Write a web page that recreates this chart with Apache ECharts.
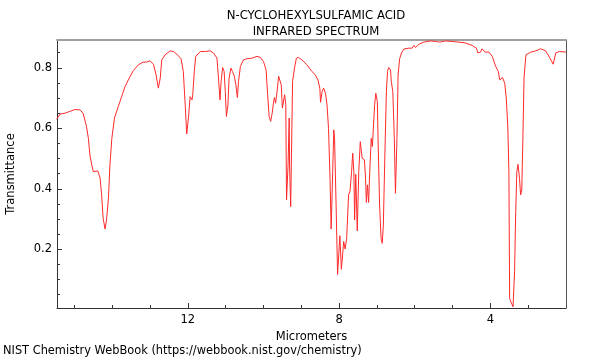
<!DOCTYPE html>
<html>
<head>
<meta charset="utf-8">
<script src="https://cdn.jsdelivr.net/npm/echarts@6/dist/echarts.min.js"></script>
<style>
html,body{margin:0;padding:0;background:#fff;}
#c{width:600px;height:360px;}
</style>
</head>
<body>
<div id="c"></div>
<script>
// Wavelength in micrometers
const wavelength = [15.47,15.38,15.25,15.12,15.07,14.99,14.85,14.77,14.68,14.63,14.59,14.54,14.50,14.46,14.38,14.32,14.28,14.24,14.19,14.15,14.10,14.06,14.01,13.94,13.84,13.75,13.66,13.55,13.44,13.31,13.18,13.09,13.00,12.91,12.84,12.78,12.73,12.69,12.60,12.47,12.38,12.29,12.18,12.12,12.07,12.03,11.98,11.94,11.89,11.87,11.83,11.79,11.67,11.54,11.41,11.32,11.23,11.19,11.15,11.12,11.08,11.04,11.01,10.98,10.94,10.91,10.86,10.82,10.77,10.73,10.69,10.66,10.61,10.53,10.44,10.30,10.17,10.08,10.00,9.93,9.89,9.85,9.81,9.77,9.73,9.71,9.68,9.64,9.60,9.56,9.53,9.50,9.47,9.44,9.41,9.39,9.35,9.32,9.31,9.28,9.26,9.23,9.18,9.13,9.07,8.98,8.85,8.72,8.63,8.56,8.51,8.49,8.45,8.41,8.36,8.32,8.28,8.24,8.21,8.17,8.14,8.12,8.08,8.04,8.01,7.98,7.94,7.90,7.88,7.84,7.80,7.75,7.71,7.67,7.64,7.61,7.59,7.56,7.52,7.48,7.44,7.39,7.33,7.30,7.28,7.25,7.22,7.19,7.15,7.12,7.09,7.06,7.03,6.99,6.97,6.93,6.89,6.86,6.83,6.79,6.75,6.72,6.69,6.64,6.62,6.58,6.54,6.51,6.47,6.44,6.40,6.35,6.29,6.16,6.07,6.02,5.98,5.89,5.76,5.58,5.45,5.34,5.18,5.01,4.83,4.65,4.48,4.37,4.33,4.26,4.22,4.14,4.04,3.95,3.86,3.79,3.75,3.68,3.62,3.58,3.54,3.51,3.49,3.46,3.43,3.40,3.36,3.33,3.30,3.27,3.23,3.20,3.17,3.14,3.11,3.06,2.93,2.80,2.67,2.54,2.45,2.34,2.27,2.18,2.00];
// Transmittance
const transmittance = [0.630,0.647,0.650,0.656,0.654,0.662,0.661,0.650,0.606,0.567,0.512,0.479,0.457,0.460,0.459,0.435,0.380,0.303,0.267,0.297,0.369,0.479,0.567,0.634,0.672,0.705,0.738,0.766,0.791,0.810,0.819,0.819,0.823,0.812,0.777,0.733,0.766,0.826,0.843,0.856,0.854,0.845,0.830,0.788,0.678,0.581,0.640,0.705,0.694,0.711,0.788,0.838,0.854,0.854,0.856,0.849,0.832,0.766,0.694,0.755,0.801,0.788,0.722,0.639,0.678,0.766,0.799,0.788,0.772,0.744,0.702,0.755,0.805,0.826,0.830,0.832,0.838,0.834,0.821,0.793,0.711,0.639,0.623,0.650,0.689,0.702,0.683,0.722,0.772,0.775,0.744,0.667,0.672,0.711,0.678,0.363,0.479,0.634,0.479,0.341,0.512,0.755,0.799,0.832,0.834,0.826,0.810,0.788,0.777,0.760,0.733,0.686,0.722,0.733,0.716,0.678,0.600,0.435,0.267,0.457,0.595,0.567,0.347,0.117,0.181,0.245,0.134,0.192,0.226,0.201,0.236,0.380,0.393,0.457,0.518,0.457,0.297,0.448,0.261,0.457,0.556,0.501,0.496,0.435,0.355,0.413,0.355,0.457,0.567,0.540,0.611,0.678,0.716,0.689,0.567,0.347,0.236,0.220,0.280,0.512,0.722,0.788,0.801,0.793,0.755,0.722,0.567,0.385,0.567,0.777,0.830,0.849,0.862,0.865,0.865,0.874,0.867,0.878,0.885,0.889,0.887,0.885,0.889,0.887,0.885,0.882,0.874,0.865,0.849,0.852,0.863,0.852,0.852,0.838,0.805,0.788,0.760,0.768,0.749,0.700,0.611,0.457,0.038,0.027,0.021,0.010,0.126,0.325,0.457,0.481,0.435,0.380,0.396,0.567,0.766,0.843,0.852,0.856,0.863,0.856,0.838,0.812,0.849,0.854,0.852];

const xMajorTicks = [4, 8, 12];
const xMinorTicks = [3, 4, 5, 6, 7, 8, 9, 10, 11, 12, 13, 14, 15];
const yMajorTicks = [0.2, 0.4, 0.6, 0.8];
const yMinorTicks = [0.05, 0.1, 0.15, 0.2, 0.25, 0.3, 0.35, 0.4, 0.45, 0.5, 0.55, 0.6, 0.65, 0.7, 0.75, 0.8, 0.85];

const titleLines = ['N-CYCLOHEXYLSULFAMIC ACID', 'INFRARED SPECTRUM'];
const xName = 'Micrometers';
const yName = 'Transmittance';
const footer = 'NIST Chemistry WebBook (https://webbook.nist.gov/chemistry)';

const X_MIN = 2.0, X_MAX = 15.46, Y_MIN = 0.006, Y_MAX = 0.892;
const FONT = 'DejaVu Sans';
const FS = 11.5;

const points = wavelength.map((w, i) => [w, transmittance[i]]);
const gridPos = { left: 57, right: 34, top: 40, bottom: 52, containLabel: false, outerBoundsMode: 'none' };

const chart = echarts.init(document.getElementById('c'), null, { renderer: 'canvas' });
chart.setOption({
  animation: false,
  backgroundColor: '#fff',
  textStyle: { fontFamily: FONT },
  title: {
    text: titleLines.join('\n'),
    left: 311, top: 3, textAlign: 'center',
    textStyle: { fontFamily: FONT, fontSize: 11.7, fontWeight: 'normal', color: '#000', lineHeight: 16 }
  },
  graphic: [{
    type: 'text', left: 3, top: 346,
    style: { text: footer, fontFamily: FONT, fontSize: 11.4, fill: '#000' }
  }],
  grid: [
    Object.assign({}, gridPos),
    Object.assign({}, gridPos)
  ],
  xAxis: [
    {
      type: 'value', gridIndex: 0, position: 'bottom', inverse: true, min: X_MIN, max: X_MAX,
      name: xName, nameLocation: 'middle', nameGap: 19,
      nameTextStyle: { fontFamily: FONT, fontSize: FS, color: '#000' },
      axisLine: { show: true, lineStyle: { color: '#333', width: 1 } },
      axisTick: { show: true, inside: true, length: 5, customValues: xMajorTicks, lineStyle: { color: '#333' } },
      axisLabel: { show: true, customValues: xMajorTicks, margin: 6, fontFamily: FONT, fontSize: FS, color: '#000', formatter: v => String(v) },
      splitLine: { show: false }
    },
    {
      type: 'value', gridIndex: 0, position: 'top', inverse: true, min: X_MIN, max: X_MAX,
      axisLine: { show: true, lineStyle: { color: '#a0a0a0', width: 2 } },
      axisTick: { show: false }, axisLabel: { show: false }, splitLine: { show: false }
    },
    {
      type: 'value', gridIndex: 1, position: 'bottom', inverse: true, min: X_MIN, max: X_MAX,
      axisLine: { show: false },
      axisTick: { show: true, inside: true, length: 3, customValues: xMinorTicks, lineStyle: { color: '#333' } },
      axisLabel: { show: false }, splitLine: { show: false }
    }
  ],
  yAxis: [
    {
      type: 'value', gridIndex: 0, position: 'left', min: Y_MIN, max: Y_MAX,
      name: yName, nameLocation: 'middle', nameGap: 40,
      nameTextStyle: { fontFamily: FONT, fontSize: FS, color: '#000' },
      axisLine: { show: true, lineStyle: { color: '#333', width: 1 } },
      axisTick: { show: true, inside: true, length: 5, customValues: yMajorTicks, lineStyle: { color: '#333' } },
      axisLabel: { show: true, customValues: yMajorTicks, margin: 5, fontFamily: FONT, fontSize: FS, color: '#000', formatter: v => v.toFixed(1) },
      splitLine: { show: false }
    },
    {
      type: 'value', gridIndex: 0, position: 'right', min: Y_MIN, max: Y_MAX,
      axisLine: { show: true, lineStyle: { color: '#555', width: 1 } },
      axisTick: { show: false }, axisLabel: { show: false }, splitLine: { show: false }
    },
    {
      type: 'value', gridIndex: 1, position: 'left', min: Y_MIN, max: Y_MAX,
      axisLine: { show: false },
      axisTick: { show: true, inside: true, length: 3, customValues: yMinorTicks, lineStyle: { color: '#333' } },
      axisLabel: { show: false }, splitLine: { show: false }
    }
  ],
  series: [{
    type: 'line', xAxisIndex: 0, yAxisIndex: 0,
    data: points, showSymbol: false, symbol: 'none', smooth: false,
    lineStyle: { color: '#ff2a2a', width: 1 }
  }]
});
</script>
</body>
</html>
